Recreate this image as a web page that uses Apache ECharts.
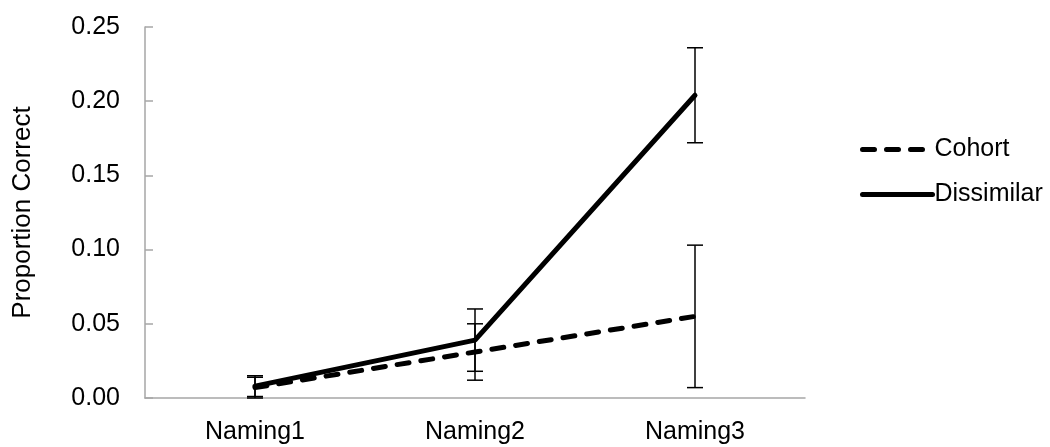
<!DOCTYPE html>
<html>
<head>
<meta charset="utf-8">
<script src="https://cdn.jsdelivr.net/npm/echarts@6/dist/echarts.min.js"></script>
<style>
html,body{margin:0;padding:0;background:#fff;}
#chart{width:1050px;height:447px;}
</style>
</head>
<body>
<div id="chart"></div>
<script>
var categories = ['Naming1', 'Naming2', 'Naming3'];
var cohort = [0.007, 0.031, 0.055];
var cohortErr = [0.007, 0.019, 0.048];
var dissimilar = [0.008, 0.039, 0.204];
var dissimilarErr = [0.007, 0.021, 0.032];
var yTicks = [0, 0.05, 0.10, 0.15, 0.20, 0.25];

var FONT = 'Liberation Sans';
var FS = 25;
var AXIS_COLOR = '#a6a6a6';

function errData(vals, errs) {
  return vals.map(function (v, i) { return [i, v - errs[i], v + errs[i]]; });
}

function errRender(params, api) {
  var x = api.value(0);
  var lo = api.coord([x, api.value(1)]);
  var hi = api.coord([x, api.value(2)]);
  var hw = 8;
  var st = { stroke: '#000', lineWidth: 1.5 };
  return {
    type: 'group',
    children: [
      { type: 'line', shape: { x1: hi[0], y1: hi[1], x2: lo[0], y2: lo[1] }, style: st },
      { type: 'line', shape: { x1: hi[0] - hw, y1: hi[1], x2: hi[0] + hw, y2: hi[1] }, style: st },
      { type: 'line', shape: { x1: lo[0] - hw, y1: lo[1], x2: lo[0] + hw, y2: lo[1] }, style: st }
    ]
  };
}

var chart = echarts.init(document.getElementById('chart'));
chart.setOption({
  animation: false,
  backgroundColor: '#fff',
  textStyle: { fontFamily: FONT, color: '#000' },
  grid: { left: 145, right: 245, top: 27, bottom: 49 },
  legend: {
    orient: 'vertical',
    left: 855,
    top: 132,
    itemWidth: 70,
    itemHeight: 14,
    itemGap: 20,
    itemStyle: { opacity: 0 },
    lineStyle: { width: 5, cap: 'round' },
    data: ['Cohort', 'Dissimilar'],
    textStyle: { fontFamily: FONT, fontSize: FS, color: '#000', padding: [0, 0, 0, -3] }
  },
  xAxis: {
    type: 'category',
    data: categories,
    boundaryGap: true,
    axisLine: { lineStyle: { color: AXIS_COLOR, width: 1.5 } },
    axisTick: { inside: true, length: 7, lineStyle: { color: AXIS_COLOR, width: 1.5 } },
    axisLabel: { fontFamily: FONT, fontSize: FS, color: '#000', margin: 22 },
    splitLine: { show: false }
  },
  yAxis: {
    type: 'value',
    min: 0,
    max: 0.25,
    interval: 0.05,
    name: 'Proportion Correct',
    nameLocation: 'middle',
    nameGap: 109,
    nameTextStyle: { fontFamily: FONT, fontSize: 26, color: '#000' },
    axisLine: { show: true, lineStyle: { color: AXIS_COLOR, width: 1.5 } },
    axisTick: { show: true, inside: true, length: 8, lineStyle: { color: AXIS_COLOR, width: 1.5 } },
    axisLabel: {
      fontFamily: FONT, fontSize: FS, color: '#000', margin: 25,
      formatter: function (v) { return v.toFixed(2); }
    },
    splitLine: { show: false }
  },
  series: [
    {
      name: 'Cohort',
      type: 'line',
      data: cohort,
      symbol: 'none',
      color: '#000',
      lineStyle: { color: '#000', width: 5, type: [12, 12], cap: 'round' },
      z: 3
    },
    {
      name: 'Dissimilar',
      type: 'line',
      data: dissimilar,
      symbol: 'none',
      color: '#000',
      lineStyle: { color: '#000', width: 5, cap: 'round' },
      z: 4
    },
    {
      type: 'custom',
      name: 'cohortErr',
      data: errData(cohort, cohortErr),
      renderItem: errRender,
      z: 5
    },
    {
      type: 'custom',
      name: 'dissimilarErr',
      data: errData(dissimilar, dissimilarErr),
      renderItem: errRender,
      z: 5
    }
  ]
});
</script>
</body>
</html>
